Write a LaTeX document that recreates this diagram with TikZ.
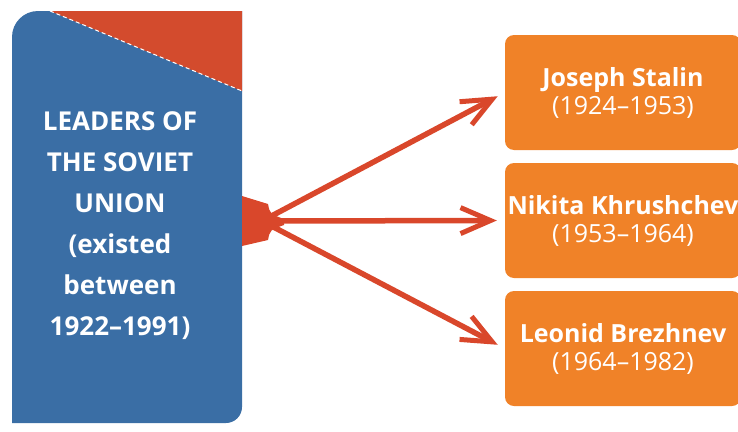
\documentclass[tikz,border=0pt]{standalone}
\usepackage{fontspec}
\setmainfont{Open Sans}
\usetikzlibrary{arrows.meta,positioning,calc}
\definecolor{panelblue}{HTML}{3A6EA5}
\definecolor{cornerred}{HTML}{D34B2D}
\definecolor{boxorange}{HTML}{F08228}
\definecolor{arrowred}{HTML}{D9472B}
\tikzset{
  leader/.style={rectangle, rounded corners=9pt, minimum width=236pt, minimum height=115pt,
    align=center, fill=boxorange, text=white, inner sep=0pt,
    font=\fontsize{25}{28}\selectfont},
  title/.style={align=center, text=white, font=\fontsize{26}{41}\selectfont\bfseries},
  fanarrow/.style={line width=5.5pt, draw=arrowred, shorten >=8pt,
    -{Straight Barb[length=30pt,width=26pt,line width=5pt]}}
}
\begin{document}
\begin{tikzpicture}[x=1pt,y=-1pt]
\useasboundingbox (0,0) rectangle (738,431);

% left panel
\fill[panelblue] (12,300) [rounded corners=26pt] -- (12,11) -- (130,11) [sharp corners] -- (242,11)
  -- (242,300) [rounded corners=16pt] -- (242,423) -- (130,423) [sharp corners] -- (12,423) -- cycle;
\fill[cornerred] (50,11) -- (242,11) -- (242,91) -- cycle;
\draw[white, line width=1pt, dash pattern=on 4pt off 3pt] (50,11) -- (242,91);
\node (union) [title] at (120,226) {LEADERS OF\\THE SOVIET\\UNION\\(existed\\between\\1922--1991)};

% leaders
\node (stalin) [leader] at (623,92.5) {\textbf{Joseph Stalin}\\(1924--1953)};
\node (khrush) [leader] at (623,220.5) {\textbf{Nikita Khrushchev}\\(1953--1964)};
\node (brezh) [leader] at (623,348.5) {\textbf{Leonid Brezhnev}\\(1964--1982)};

% fan of arrows
\coordinate (fan) at (262,221);
\fill[arrowred] (242,196) -- (268,204) .. controls (270,214) .. (284,219) -- (284,225)
  .. controls (270,230) .. (268,240) -- (242,246) -- cycle;
\draw[fanarrow] (fan) -- (stalin.west);
\draw[fanarrow] (fan) -- (khrush.west);
\draw[fanarrow] (fan) -- (brezh.west);

\end{tikzpicture}
\end{document}
